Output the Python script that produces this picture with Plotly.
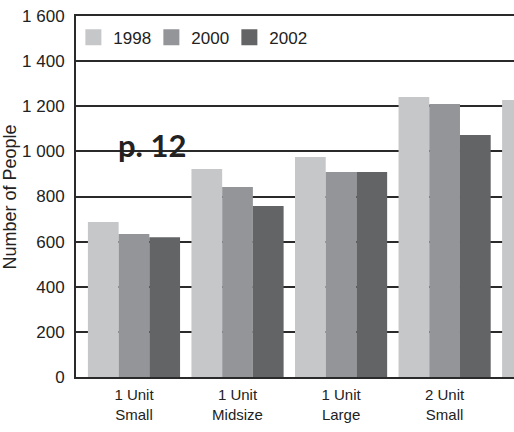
import plotly.graph_objects as go

categories = ["1 Unit<br>Small", "1 Unit<br>Midsize", "1 Unit<br>Large", "2 Unit<br>Small", "2 Unit<br>Midsize"]
years = ["1998", "2000", "2002"]
v1998 = [687, 922, 975, 1241, 1228]
v2000 = [634, 842, 909, 1210, 1180]
v2002 = [619, 758, 909, 1073, 1050]
y_ticks = [0, 200, 400, 600, 800, 1000, 1200, 1400, 1600]

colors = ["#c6c7c9", "#939598", "#636466"]
FONT = "Liberation Sans Narrow, Liberation Sans, Arial, sans-serif"

fig = go.Figure()
for name, vals, c in zip(years, [v1998, v2000, v2002], colors):
    fig.add_trace(go.Bar(x=list(range(len(categories))), y=vals, name=name,
                         marker=dict(color=c, line=dict(width=0)), showlegend=False))
for name, c in zip(years, colors):
    fig.add_trace(go.Scatter(x=[None], y=[None], mode="markers", name=name,
                             marker=dict(symbol="square", size=18, color=c)))

fig.update_layout(
    width=514, height=432,
    margin=dict(l=76, r=0, t=16, b=55, autoexpand=False),
    paper_bgcolor="white", plot_bgcolor="white",
    barmode="group", bargap=0.11, bargroupgap=0,
    separators=". ",
    font=dict(family=FONT, size=16, color="#222"),
    legend=dict(orientation="h", x=-0.006, y=0.99, xanchor="left", yanchor="top",
                bgcolor="rgba(0,0,0,0)", font=dict(size=17, color="#222"),
                itemwidth=30, entrywidth=33, entrywidthmode="pixels", traceorder="normal"),
    xaxis=dict(range=[-0.56, 3.67], tickmode="array", automargin=False,
               tickvals=list(range(len(categories))), ticktext=categories,
               showgrid=False, showline=True, mirror=True, linecolor="#2a2a2a", linewidth=2,
               ticks="", ticklabelstandoff=3, tickfont=dict(size=15, color="#222"), zeroline=False),
    yaxis=dict(range=[0, 1600], tickvals=y_ticks, tickformat=",d", automargin=False,
               showgrid=True, gridcolor="#2a2a2a", gridwidth=2,
               showline=True, linecolor="#2a2a2a", linewidth=2,
               zeroline=False, ticks="", ticklabelstandoff=6, ticklabeloverflow="allow",
               tickfont=dict(size=17, color="#222")),
    annotations=[
        dict(text="<b>p. 12</b>", xref="paper", yref="y", x=0.1735, y=1028,
             xanchor="center", yanchor="middle",
             showarrow=False, font=dict(family="Lato, Open Sans, sans-serif", size=31, color="#222")),
        dict(text="Number of People", xref="paper", yref="paper", x=-0.1507, y=0.5,
             xanchor="center", yanchor="middle", textangle=-90,
             showarrow=False, font=dict(size=18, color="#222")),
    ],
)

fig.write_html("out.html", config={"displayModeBar": False},
               post_script="document.body.style.margin='0px';")
